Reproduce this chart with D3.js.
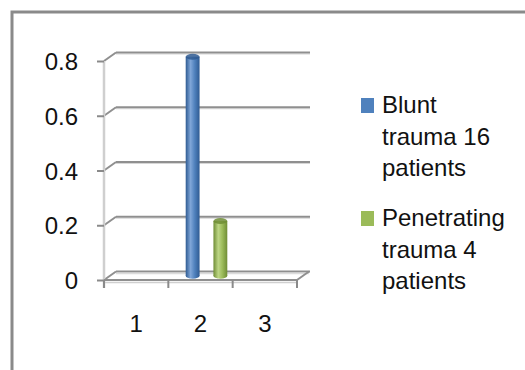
<!DOCTYPE html>
<html>
<head>
<meta charset="utf-8">
<script src="https://cdn.jsdelivr.net/npm/d3@7"></script>
<style>
  html, body { margin: 0; padding: 0; background: #fff; }
  svg { display: block; }
  text { font-family: "Liberation Sans", Arial, sans-serif; fill: #111; }
</style>
</head>
<body>
<svg id="chart" width="525" height="370"></svg>
<script>
// Chart data
const categories = ["1", "2", "3"];
const seriesNames = ["Blunt trauma 16 patients", "Penetrating trauma 4 patients"];
const legendLines = [["Blunt", "trauma 16", "patients"], ["Penetrating", "trauma 4", "patients"]];
const bluntValues = [0, 0.8, 0];
const penetratingValues = [0, 0.2, 0];
const yTicks = [0, 0.2, 0.4, 0.6, 0.8];
const seriesColors = ["#4F81BD", "#9BBB59"];
const seriesDark = ["#2f5b92", "#6f8d35"];
const seriesLight = ["#7fa6d8", "#bdd685"];

const svg = d3.select("#chart");
const defs = svg.append("defs");

// Outer frame
svg.append("rect")
  .attr("x", 12).attr("y", 12)
  .attr("width", 540).attr("height", 400)
  .attr("fill", "none").attr("stroke", "#8a8a8a").attr("stroke-width", 3);

// 3D geometry: front plane plus a depth offset to the back wall
const depthX = 12, depthY = -8.5;
const x = d3.scaleBand().domain(categories).range([104, 297]);
const y = d3.scaleLinear().domain([0, 0.8]).range([280, 61]);

const g = svg.append("g");

// Back-wall gridlines (value > 0)
yTicks.filter(v => v > 0).forEach(v => {
  const yy = y(v) + depthY;
  g.append("line")
    .attr("x1", 104 + depthX).attr("x2", 297 + depthX + 1)
    .attr("y1", yy + 1.5).attr("y2", yy + 1.5)
    .attr("stroke", "#d6d6d6").attr("stroke-width", 1);
  g.append("line")
    .attr("x1", 104 + depthX).attr("x2", 297 + depthX + 1)
    .attr("y1", yy).attr("y2", yy)
    .attr("stroke", "#8f8f8f").attr("stroke-width", 2);
});

// Floor: back edge, front edge, right diagonal
const y0 = y(0);
g.append("line")
  .attr("x1", 104 + depthX).attr("x2", 297 + depthX + 1)
  .attr("y1", y0 + depthY).attr("y2", y0 + depthY)
  .attr("stroke", "#8f8f8f").attr("stroke-width", 2);
g.append("line")
  .attr("x1", 104 + depthX).attr("x2", 297 + depthX)
  .attr("y1", y0 + depthY + 2).attr("y2", y0 + depthY + 2)
  .attr("stroke", "#dcdcdc").attr("stroke-width", 1.5);
g.append("line")
  .attr("x1", 104).attr("x2", 297)
  .attr("y1", y0 + 2.5).attr("y2", y0 + 2.5)
  .attr("stroke", "#d0d0d0").attr("stroke-width", 1.5);
g.append("line")
  .attr("x1", 297).attr("x2", 297 + depthX)
  .attr("y1", y0).attr("y2", y0 + depthY)
  .attr("stroke", "#8f8f8f").attr("stroke-width", 2);

// Diagonals linking the y-axis ticks to the back wall
yTicks.forEach(v => {
  g.append("line")
    .attr("x1", 104).attr("y1", y(v))
    .attr("x2", 104 + depthX).attr("y2", y(v) + depthY)
    .attr("stroke", "#8f8f8f").attr("stroke-width", 2);
});

// Front vertical axis (light)
g.append("line")
  .attr("x1", 104).attr("x2", 104)
  .attr("y1", y(0.8)).attr("y2", y0 + 8)
  .attr("stroke", "#cfcfcf").attr("stroke-width", 2.5);

// Front horizontal axis
g.append("line")
  .attr("x1", 104).attr("x2", 297)
  .attr("y1", y0).attr("y2", y0)
  .attr("stroke", "#8f8f8f").attr("stroke-width", 2);

// Y axis ticks and labels
const yAxis = d3.axisLeft(y).tickValues(yTicks).tickSize(7).tickFormat(d3.format("~g"));
const yAxisG = svg.append("g").attr("transform", "translate(104,0)").call(yAxis);
yAxisG.select(".domain").remove();
yAxisG.selectAll(".tick line").attr("stroke", "#8a8a8a").attr("stroke-width", 2);
yAxisG.selectAll(".tick text")
  .attr("x", -26).attr("dy", "0.36em")
  .style("font-size", "24px").style("font-family", "'Liberation Sans', Arial, sans-serif")
  .attr("fill", "#111");

// X axis ticks at category boundaries, labels at band centres
const boundaries = categories.map(c => x(c)).concat([x(categories[categories.length - 1]) + x.bandwidth()]);
boundaries.forEach(bx => {
  g.append("line")
    .attr("x1", bx).attr("x2", bx)
    .attr("y1", y0).attr("y2", y0 + 8)
    .attr("stroke", "#8a8a8a").attr("stroke-width", 2);
});
svg.append("g").selectAll("text")
  .data(categories).join("text")
  .attr("x", d => x(d) + x.bandwidth() / 2)
  .attr("y", 332)
  .attr("text-anchor", "middle")
  .style("font-size", "24px")
  .text(d => d);

// Cylinder gradients
seriesColors.forEach((c, i) => {
  const grad = defs.append("linearGradient").attr("id", "cyl" + i)
    .attr("x1", "0%").attr("x2", "100%").attr("y1", "0%").attr("y2", "0%");
  grad.append("stop").attr("offset", "0%").attr("stop-color", seriesDark[i]);
  grad.append("stop").attr("offset", "35%").attr("stop-color", seriesLight[i]);
  grad.append("stop").attr("offset", "65%").attr("stop-color", c);
  grad.append("stop").attr("offset", "100%").attr("stop-color", seriesDark[i]);
});

// Cylinders sit at half depth
const inner = d3.scaleBand().domain([0, 1]).range([0, x.bandwidth()])
  .paddingInner(0.5).paddingOuter(0.41);
const midX = depthX / 2, midY = depthY / 2;
const seriesValues = [bluntValues, penetratingValues];
const bars = [];
seriesValues.forEach((vals, si) => {
  vals.forEach((v, ci) => {
    if (v > 0) bars.push({ si, cat: categories[ci], v });
  });
});
const ry = 3;
const barG = svg.append("g");
bars.forEach(b => {
  const bw = inner.bandwidth();
  const bx = x(b.cat) + inner(b.si) + midX;
  const top = y(b.v) + midY;
  const bottom = y(0) + midY;
  barG.append("ellipse")
    .attr("cx", bx + bw / 2).attr("cy", bottom)
    .attr("rx", bw / 2).attr("ry", ry)
    .attr("fill", `url(#cyl${b.si})`);
  barG.append("rect")
    .attr("x", bx).attr("y", top)
    .attr("width", bw).attr("height", bottom - top)
    .attr("fill", `url(#cyl${b.si})`);
  barG.append("ellipse")
    .attr("cx", bx + bw / 2).attr("cy", top)
    .attr("rx", bw / 2).attr("ry", ry)
    .attr("fill", seriesDark[b.si]).attr("opacity", 0.85);
});

// Legend
const legendTop = [98, 211];
const legend = svg.append("g");
seriesNames.forEach((name, i) => {
  legend.append("rect")
    .attr("x", 361).attr("y", legendTop[i])
    .attr("width", 13).attr("height", 15)
    .attr("fill", seriesColors[i]);
  const t = legend.append("text")
    .attr("x", 382).attr("y", legendTop[i] + 15)
    .style("font-size", "24px");
  legendLines[i].forEach((line, k) => {
    t.append("tspan").attr("x", 382).attr("dy", k === 0 ? 0 : 31.5).text(line);
  });
});
</script>
</body>
</html>
